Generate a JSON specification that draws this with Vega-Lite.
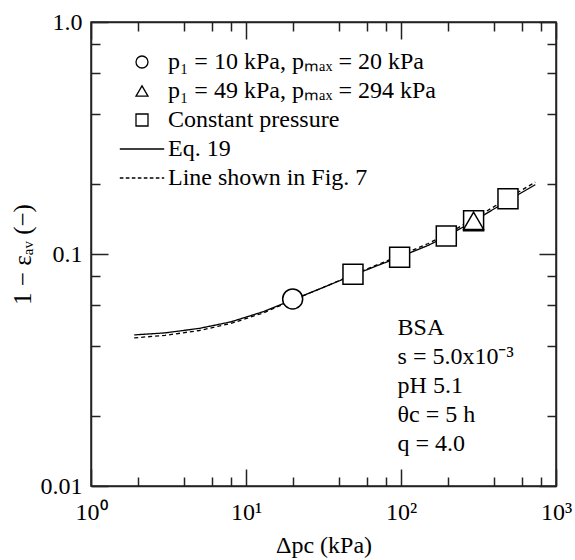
{
  "$schema": "https://vega.github.io/schema/vega-lite/v6.json",
  "width": 465,
  "height": 464,
  "autosize": {"type": "none"},
  "padding": {"left": 91, "top": 22, "right": 19, "bottom": 74},
  "background": "white",
  "config": {
    "font": "Liberation Serif",
    "view": {"stroke": "#222", "strokeWidth": 1.5},
    "axis": {
      "domainColor": "#222", "domainWidth": 1.5,
      "tickColor": "#222", "tickWidth": 1.5,
      "labelColor": "black", "titleColor": "black",
      "labelFont": "Liberation Serif", "titleFont": "Liberation Serif",
      "labelFontSize": 24, "titleFontSize": 24, "titleFontWeight": "normal",
      "grid": false, "labelFlush": false, "labelOverlap": false
    }
  },
  "datasets": {
    "points": [
      {"series": "p₁ = 10 kPa, pₘₐₓ = 20 kPa", "dp": 20, "e": 0.064},
      {"series": "Constant pressure", "dp": 49, "e": 0.0818},
      {"series": "Constant pressure", "dp": 98, "e": 0.0968},
      {"series": "Constant pressure", "dp": 196, "e": 0.1196},
      {"series": "Constant pressure", "dp": 294, "e": 0.139},
      {"series": "Constant pressure", "dp": 490, "e": 0.173},
      {"series": "p₁ = 49 kPa, pₘₐₓ = 294 kPa", "dp": 294, "e": 0.139}
    ],
    "curves": [
      {"curve": "Eq. 19", "dp": 1.9, "e": 0.0448},
      {"curve": "Eq. 19", "dp": 3, "e": 0.0457},
      {"curve": "Eq. 19", "dp": 5, "e": 0.0478},
      {"curve": "Eq. 19", "dp": 8, "e": 0.0510},
      {"curve": "Eq. 19", "dp": 13, "e": 0.0565},
      {"curve": "Eq. 19", "dp": 20, "e": 0.0635},
      {"curve": "Eq. 19", "dp": 30, "e": 0.0708},
      {"curve": "Eq. 19", "dp": 49, "e": 0.0810},
      {"curve": "Eq. 19", "dp": 70, "e": 0.0890},
      {"curve": "Eq. 19", "dp": 98, "e": 0.0970},
      {"curve": "Eq. 19", "dp": 150, "e": 0.1090},
      {"curve": "Eq. 19", "dp": 196, "e": 0.1190},
      {"curve": "Eq. 19", "dp": 294, "e": 0.1385},
      {"curve": "Eq. 19", "dp": 490, "e": 0.1700},
      {"curve": "Eq. 19", "dp": 735, "e": 0.1990},
      {"curve": "Line shown in Fig. 7", "dp": 1.9, "e": 0.0435},
      {"curve": "Line shown in Fig. 7", "dp": 3, "e": 0.0446},
      {"curve": "Line shown in Fig. 7", "dp": 5, "e": 0.0468},
      {"curve": "Line shown in Fig. 7", "dp": 8, "e": 0.0502},
      {"curve": "Line shown in Fig. 7", "dp": 13, "e": 0.0558},
      {"curve": "Line shown in Fig. 7", "dp": 20, "e": 0.0632},
      {"curve": "Line shown in Fig. 7", "dp": 30, "e": 0.0708},
      {"curve": "Line shown in Fig. 7", "dp": 49, "e": 0.0815},
      {"curve": "Line shown in Fig. 7", "dp": 70, "e": 0.0898},
      {"curve": "Line shown in Fig. 7", "dp": 98, "e": 0.0982},
      {"curve": "Line shown in Fig. 7", "dp": 150, "e": 0.1110},
      {"curve": "Line shown in Fig. 7", "dp": 196, "e": 0.1215},
      {"curve": "Line shown in Fig. 7", "dp": 294, "e": 0.1415},
      {"curve": "Line shown in Fig. 7", "dp": 490, "e": 0.1740},
      {"curve": "Line shown in Fig. 7", "dp": 735, "e": 0.2040}
    ]
  },
  "layer": [
    {
      "data": {"name": "curves"},
      "mark": {"type": "line", "color": "black", "strokeWidth": 1.3},
      "encoding": {
        "x": {
          "field": "dp", "type": "quantitative",
          "scale": {"type": "log", "domain": [1, 1000], "nice": false},
          "axis": {
            "orient": "bottom",
            "values": [1, 2, 4, 6, 8, 10, 20, 40, 60, 80, 100, 200, 400, 600, 800, 1000],
            "tickSize": {"condition": {"test": "datum.value == 1 || datum.value == 10 || datum.value == 100 || datum.value == 1000", "value": -17}, "value": -9},
            "labelExpr": "datum.value == 1 ? '10⁰' : datum.value == 10 ? '10¹' : datum.value == 100 ? '10²' : datum.value == 1000 ? '10³' : ''",
            "labelPadding": 31,
            "title": "Δpc   (kPa)",
            "titleY": 59,
            "titleBaseline": "middle"
          }
        },
        "y": {
          "field": "e", "type": "quantitative",
          "scale": {"type": "log", "domain": [0.01, 1], "nice": false},
          "axis": {
            "orient": "left",
            "values": [0.01, 0.02, 0.04, 0.06, 0.08, 0.1, 0.2, 0.4, 0.6, 0.8, 1],
            "tickSize": {"condition": {"test": "datum.value == 0.01 || datum.value == 0.1 || datum.value == 1", "value": -17}, "value": -9},
            "labelExpr": "datum.value == 1 ? '1.0' : datum.value == 0.1 ? '0.1' : datum.value == 0.01 ? '0.01' : ''",
            "labelPadding": 26,
            "title": "1 − εₐᵥ    (−)",
            "titleFontSize": 25,
            "titleX": -69,
            "titleY": 232,
            "titleBaseline": "middle"
          }
        },
        "strokeDash": {
          "field": "curve", "type": "nominal",
          "scale": {"domain": ["Eq. 19", "Line shown in Fig. 7"], "range": [[1, 0], [4, 3]]},
          "legend": null
        }
      }
    },
    {
      "data": {"name": "points"},
      "mark": {"type": "point", "filled": true, "color": "white", "opacity": 1, "size": 400},
      "encoding": {
        "x": {"field": "dp", "type": "quantitative", "axis": null},
        "y": {"field": "e", "type": "quantitative", "axis": null},
        "shape": {"field": "series", "type": "nominal", "legend": null}
      }
    },
    {
      "data": {"name": "points"},
      "mark": {"type": "point", "filled": false, "color": "black", "strokeWidth": 1.5, "opacity": 1, "size": 400},
      "encoding": {
        "x": {
          "field": "dp", "type": "quantitative",
          "axis": {
            "orient": "top",
            "values": [1, 2, 4, 6, 8, 10, 20, 40, 60, 80, 100, 200, 400, 600, 800, 1000],
            "tickSize": {"condition": {"test": "datum.value == 1 || datum.value == 10 || datum.value == 100 || datum.value == 1000", "value": -17}, "value": -9},
            "labels": false,
            "title": null
          }
        },
        "y": {
          "field": "e", "type": "quantitative",
          "axis": {
            "orient": "right",
            "values": [0.01, 0.02, 0.04, 0.06, 0.08, 0.1, 0.2, 0.4, 0.6, 0.8, 1],
            "tickSize": {"condition": {"test": "datum.value == 0.01 || datum.value == 0.1 || datum.value == 1", "value": -17}, "value": -9},
            "labels": false,
            "title": null
          }
        },
        "shape": {
          "field": "series", "type": "nominal",
          "scale": {
            "domain": ["p₁ = 10 kPa, pₘₐₓ = 20 kPa", "p₁ = 49 kPa, pₘₐₓ = 294 kPa", "Constant pressure", "Eq. 19", "Line shown in Fig. 7"],
            "range": ["circle", "triangle-up", "square", "M-3.7,0H3.7", "M-3.7,0H-3.1M-2.7,0H-2.1M-1.7,0H-1.1M-0.7,0H-0.1M0.3,0H0.9M1.3,0H1.9M2.3,0H2.9M3.3,0H3.7"]
          },
          "legend": {
            "orient": "top-left",
            "offset": 28,
            "title": null,
            "padding": 0,
            "symbolSize": 144,
            "symbolOffset": 11,
            "symbolStrokeWidth": 1.3,
            "symbolStrokeColor": "black",
            "symbolFillColor": "white",
            "symbolOpacity": 1,
            "labelFont": "Liberation Serif",
            "labelFontSize": 24,
            "labelColor": "black",
            "labelLimit": 500,
            "labelOffset": 14,
            "rowPadding": 5
          }
        }
      }
    },
    {
      "data": {"values": [{}]},
      "mark": {"type": "text", "align": "left", "baseline": "alphabetic", "font": "Liberation Serif", "fontSize": 24, "lineHeight": 29, "color": "black"},
      "encoding": {
        "x": {"datum": 95, "type": "quantitative", "axis": null},
        "y": {"datum": 0.0448, "type": "quantitative", "axis": null},
        "text": {"value": ["BSA", "s = 5.0x10⁻³", "pH 5.1", "θc = 5 h", "q = 4.0"]}
      }
    }
  ],
  "resolve": {"axis": {"x": "independent", "y": "independent"}, "legend": {"shape": "independent"}}
}
